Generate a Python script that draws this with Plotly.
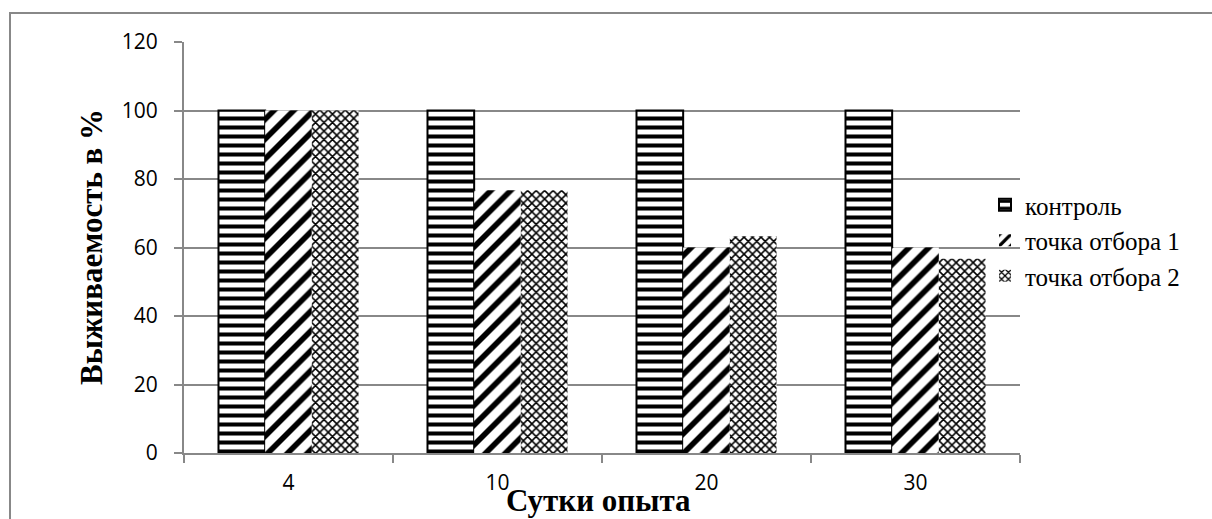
import plotly.graph_objects as go

# Survival data by day of experiment
days = ["4", "10", "20", "30"]
control = [100, 100, 100, 100]
point1 = [100, 76.7, 60, 60]
point2 = [100, 76.7, 63.3, 56.7]

names = ["контроль", "точка отбора 1", "точка отбора 2"]

L, R, T, B = 184, 1020, 42, 453
W, H = 1212, 519

fig = go.Figure()
fig.add_trace(go.Bar(
    x=days, y=control, name=names[0],
    marker=dict(color="white", line=dict(color="black", width=2),
                pattern=dict(shape="-", fgcolor="black", bgcolor="white",
                             size=9, solidity=0.45, fillmode="replace")),
))
fig.add_trace(go.Bar(
    x=days, y=point1, name=names[1],
    marker=dict(color="white", line=dict(color="white", width=0),
                pattern=dict(shape="/", fgcolor="black", bgcolor="white",
                             size=14, solidity=0.4, fillmode="replace")),
))
fig.add_trace(go.Bar(
    x=days, y=point2, name=names[2],
    marker=dict(color="white", line=dict(color="white", width=0),
                pattern=dict(shape="x", fgcolor="black", bgcolor="white",
                             size=6, solidity=0.45, fillmode="replace")),
))

def px_x(p):
    return (p - L) / (R - L)

def px_y(p):
    return (B - p) / (B - T)

# outer frame around the chart
fig.add_shape(type="rect", xref="paper", yref="paper",
              x0=px_x(10), x1=px_x(1260), y0=px_y(13), y1=px_y(560),
              line=dict(color="#888888", width=2), fillcolor="rgba(0,0,0,0)",
              layer="below")

title_font = dict(family="Liberation Serif", size=31, color="black")

# axis titles
fig.add_annotation(text="<b>Выживаемость в %</b>", textangle=-90,
                   xref="paper", yref="paper", x=px_x(92), y=px_y(247),
                   xanchor="center", yanchor="middle", showarrow=False,
                   font=title_font)
fig.add_annotation(text="<b>Сутки опыта</b>",
                   xref="paper", yref="paper", x=px_x(598), y=px_y(500),
                   xanchor="center", yanchor="middle", showarrow=False,
                   font=title_font)

fig.update_layout(
    width=W, height=H,
    margin=dict(l=L, r=W - R, t=T, b=H - B, pad=0),
    paper_bgcolor="white", plot_bgcolor="white",
    barmode="group", bargap=0.33, bargroupgap=0,
    showlegend=True,
    legend=dict(x=px_x(985), y=px_y(182), xanchor="left", yanchor="top",
                font=dict(family="Liberation Serif", size=25, color="black"),
                bgcolor="rgba(0,0,0,0)", itemwidth=30, tracegroupgap=0),
    xaxis=dict(type="category", showline=True, linecolor="#888888", linewidth=2,
               ticks="outside", tickson="boundaries", ticklen=8, tickwidth=2,
               tickcolor="#888888", showgrid=False, ticklabelstandoff=10,
               tickfont=dict(family="Open Sans", size=21, color="black")),
    yaxis=dict(range=[0, 120], dtick=20, showline=True, linecolor="#888888", linewidth=2,
               ticks="outside", ticklen=8, tickwidth=2, tickcolor="#888888",
               showgrid=True, gridcolor="#888888", gridwidth=2,
               zeroline=False, ticklabelstandoff=12,
               tickfont=dict(family="Open Sans", size=21, color="black")),
)

fig.write_html("out.html")
